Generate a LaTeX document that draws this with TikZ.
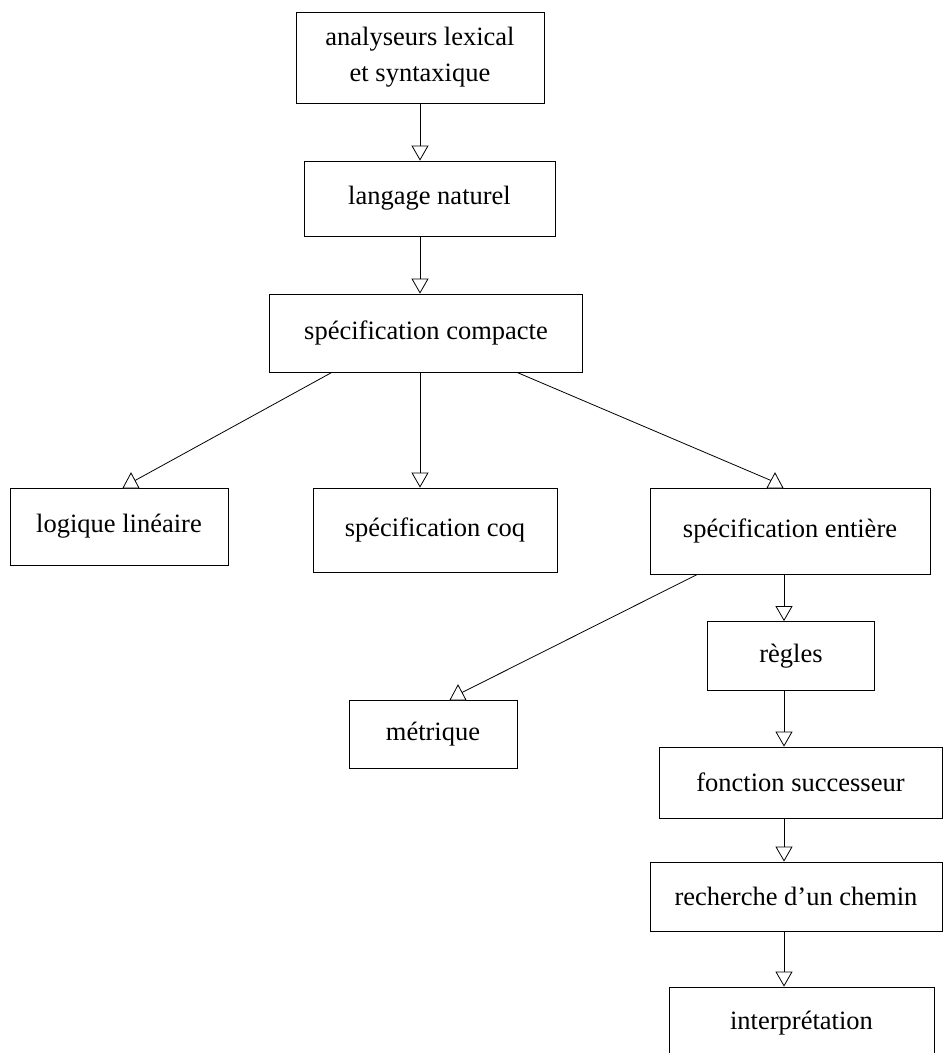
\documentclass[tikz,border=0pt]{standalone}
\usepackage{fontspec}
\setmainfont{Liberation Serif}
\usetikzlibrary{arrows.meta,calc}
\begin{document}
\begin{tikzpicture}[x=1pt,y=-1pt,
  box/.style={draw,line width=0.8pt,inner sep=0pt,align=center,font=\fontsize{26.5}{36}\selectfont},
  link/.style={line width=0.8pt},
  varrow/.style={link,-{Triangle[open,width=17pt,length=15pt,line width=0.8pt]}},
  tri/.style={line width=0.8pt,fill=white,line join=miter}]
\useasboundingbox (0,0) rectangle (946,1053);
\clip (0,0) rectangle (946,1053);
% boxes
\node[box,minimum width=248pt,minimum height=91pt] (ana) at (420,57.5) {analyseurs lexical\\et syntaxique};
\node[box,minimum width=251pt,minimum height=75pt] (lang) at (429.5,198.5) {langage naturel};
\node[box,minimum width=313pt,minimum height=78pt] (comp) at (426,333) {spécification compacte};
\node[box,minimum width=218pt,minimum height=77pt] (log) at (119,526.5) {logique linéaire};
\node[box,minimum width=244pt,minimum height=84pt] (coq) at (435,530) {spécification coq};
\node[box,minimum width=280pt,minimum height=86pt] (ent) at (790,531) {spécification entière};
\node[box,minimum width=167pt,minimum height=69pt] (reg) at (791,656) {règles};
\node[box,minimum width=168pt,minimum height=68pt] (met) at (433,734) {métrique};
\node[box,minimum width=283pt,minimum height=71pt] (fon) at (800.5,782.5) {fonction successeur};
\node[box,minimum width=292pt,minimum height=69pt] (rec) at (796,896.5) {recherche d’un chemin};
\node[box,minimum width=265pt,minimum height=72pt] (int) at (801.5,1023) {interprétation};
% reference columns
\coordinate (lc) at (420,0);
\coordinate (rc) at (784,0);
% vertical arrows
\draw[varrow] (ana.south) -- (lc |- lang.north);
\draw[varrow] (lc |- lang.south) -- (lc |- comp.north);
\draw[varrow] (lc |- comp.south) -- (lc |- coq.north);
\draw[varrow] (rc |- ent.south) -- (rc |- reg.north);
\draw[varrow] (rc |- reg.south) -- (rc |- fon.north);
\draw[varrow] (rc |- fon.south) -- (rc |- rec.north);
\draw[varrow] (rc |- rec.south) -- (rc |- int.north);
% slanted connectors with upright open triangles
\coordinate (s4) at ($(comp.south west)!0.2!(comp.south east)$);
\coordinate (t4) at (131,473);
\coordinate (e4) at (135,480.5);
\draw[link] (s4) -- (e4);
\draw[tri] (t4) -- ++(8,15) -- ++(-16,0) -- cycle;
\coordinate (s6) at ($(comp.south west)!0.79!(comp.south east)$);
\coordinate (t6) at (775,473);
\coordinate (e6) at (771,480.5);
\draw[link] (s6) -- (e6);
\draw[tri] (t6) -- ++(8,15) -- ++(-16,0) -- cycle;
\coordinate (s8) at ($(ent.south west)!0.17!(ent.south east)$);
\coordinate (t8) at (458,685);
\coordinate (e8) at (462,692.5);
\draw[link] (s8) -- (e8);
\draw[tri] (t8) -- ++(8,15) -- ++(-16,0) -- cycle;
\end{tikzpicture}
\end{document}
